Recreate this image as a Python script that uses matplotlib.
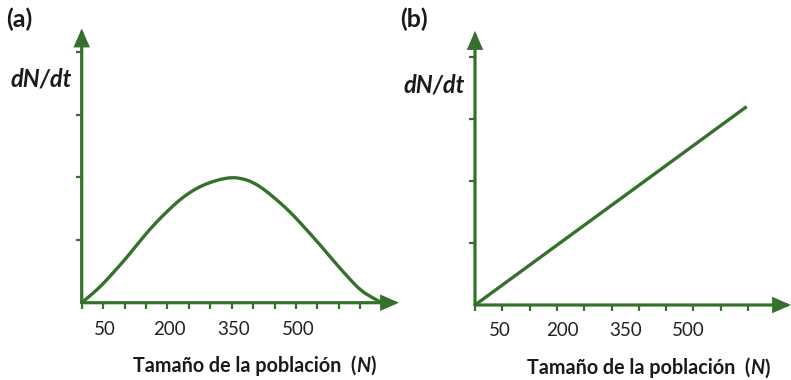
import numpy as np
import matplotlib
matplotlib.use("Agg")
import matplotlib.pyplot as plt
from matplotlib.path import Path
from matplotlib.patches import PathPatch
from matplotlib.transforms import ScaledTranslation

# ---- data -------------------------------------------------------------
# (a) hump-shaped growth rate vs population size
n_a = [0, 25, 50, 75, 100, 125, 150, 175, 200, 225, 250, 275, 300, 325, 350,
       375, 400, 425, 450, 475, 500, 525, 550, 575, 600, 625, 650, 675, 700]
rate_a = [0.00, 0.14, 0.30, 0.49, 0.68, 0.89, 1.10, 1.29, 1.46, 1.62, 1.75,
          1.85, 1.92, 1.97, 2.00, 1.98, 1.92, 1.81, 1.67, 1.52, 1.35, 1.16,
          0.97, 0.77, 0.57, 0.38, 0.20, 0.09, 0.00]

# (b) linear growth rate vs population size
n_b = [0, 650]
rate_b = [0.0, 3.2]

tick_values = [50, 200, 350, 500]
tick_labels = ["50", "200", "350", "500"]
panel_labels = ["(a)", "(b)"]
y_label = "dN/dt"
x_label = "Tamaño de la población  ("
x_label_var = "N"

# ---- style ------------------------------------------------------------
GREEN = "#35702c"
TEXT = "#1a1a1a"
FONT = ["Lato", "DejaVu Sans"]
W, H = 791, 380

fig = plt.figure(figsize=(W / 100, H / 100), dpi=100)


def px_axes(left, right, bottom, top):
    """Axes rectangle given in pixel coordinates (origin top-left)."""
    return fig.add_axes([left / W, 1 - bottom / H, (right - left) / W,
                         (bottom - top) / H])


def smooth_line(ax, xs, ys, **kw):
    """Quadratic B-spline through the points: smooth, passes the ends."""
    pts = np.column_stack([xs, ys]).astype(float)
    verts = [pts[0]]
    codes = [Path.MOVETO]
    for i in range(1, len(pts) - 1):
        mid = (pts[i] + pts[i + 1]) / 2 if i < len(pts) - 2 else pts[i + 1]
        verts += [pts[i], mid]
        codes += [Path.CURVE3, Path.CURVE3]
    patch = PathPatch(Path(verts, codes), facecolor="none", **kw)
    ax.add_patch(patch)
    return patch


def draw_frame(ax):
    for s in ax.spines.values():
        s.set_visible(False)
    arrow = dict(arrowstyle="-|>,head_length=0.8,head_width=0.35",
                 mutation_scale=12, lw=2.3, color=GREEN,
                 shrinkA=0, shrinkB=0, joinstyle="miter")
    ax.annotate("", xy=(0, 1), xytext=(0, 0), xycoords="axes fraction",
                arrowprops=arrow, annotation_clip=False)
    ax.annotate("", xy=(1, 0), xytext=(0, 0), xycoords="axes fraction",
                arrowprops=arrow, annotation_clip=False)
    ax.set_yticks([1, 2, 3, 4])
    ax.set_yticklabels([])
    ax.tick_params(axis="y", which="major", length=4, width=1.6,
                   color=GREEN, direction="out")


def draw_xlabel(x_px, baseline_px):
    style = dict(fontsize=14.2, fontweight="bold", family=FONT, color=TEXT)
    t1 = fig.text(x_px / W, 1 - baseline_px / H, x_label, ha="left",
                  va="baseline", **style)
    n = plt.annotate(x_label_var, xy=(1, 0), xycoords=t1, ha="left",
                     va="bottom", fontstyle="italic", **style)
    plt.annotate(")", xy=(1, 0), xycoords=n, ha="left", va="bottom",
                 **style)


def tick_text(ax, shift_px, pad):
    ax.tick_params(axis="x", which="major", labelsize=13.5, pad=pad,
                   labelcolor="#222222")
    for lab in ax.get_xticklabels():
        lab.set_family(FONT)
        lab.set_transform(lab.get_transform() +
                          ScaledTranslation(shift_px / 100, 0,
                                            fig.dpi_scale_trans))


# ---- panel (a) --------------------------------------------------------
ax_a = px_axes(81.7, 399, 302.7, 28.5)
ax_a.set_xlim(0, (399 - 81.7) / (21.43 / 50))
ax_a.set_ylim(0, (302.7 - 28.5) / 62.7)
smooth_line(ax_a, n_a, rate_a, edgecolor=GREEN, lw=2.4,
            capstyle="round", joinstyle="round", clip_on=False)
draw_frame(ax_a)
a_ticks = list(range(0, 701, 50))
ax_a.set_xticks(a_ticks)
ax_a.set_xticklabels([tick_labels[tick_values.index(v)] if v in tick_values
                      else "" for v in a_ticks])
ax_a.tick_params(axis="x", which="major", length=4, width=1.6, color=GREEN,
                 direction="out")
tick_text(ax_a, 2, 9)

# ---- panel (b) --------------------------------------------------------
px_per_unit_b = 0.418
ax_b = px_axes(475, 791, 305, 31)
ax_b.set_xlim(0, (791 - 475) / px_per_unit_b)
ax_b.set_ylim(0, (305 - 31) / 62.0)
ax_b.plot(n_b, rate_b, color=GREEN, lw=2.4, solid_capstyle="butt",
          clip_on=False)
draw_frame(ax_b)
ax_b.set_xticks(tick_values)
ax_b.set_xticklabels(tick_labels)
ax_b.tick_params(axis="x", which="major", length=0)
minor_step_b = 27.3 / px_per_unit_b
ax_b.set_xticks(np.arange(12) * minor_step_b, minor=True)
ax_b.tick_params(axis="x", which="minor", length=4, width=1.6, color=GREEN,
                 direction="out")
tick_text(ax_b, 4, 12)

# ---- text -------------------------------------------------------------
for x_px, lab in zip([6, 400], panel_labels):
    fig.text(x_px / W, 1 - 19 / H, lab, ha="left", va="center",
             fontsize=18, fontweight="bold", family=FONT, color=TEXT)

for x_px, base_px in [(11, 86), (404, 92)]:
    fig.text(x_px / W, 1 - base_px / H, y_label, ha="left", va="baseline",
             fontsize=17, fontweight="bold", fontstyle="italic",
             family=FONT, color=TEXT)

draw_xlabel(133, 371.5)
draw_xlabel(526.7, 374.5)

fig.savefig("out.png", dpi=100)
